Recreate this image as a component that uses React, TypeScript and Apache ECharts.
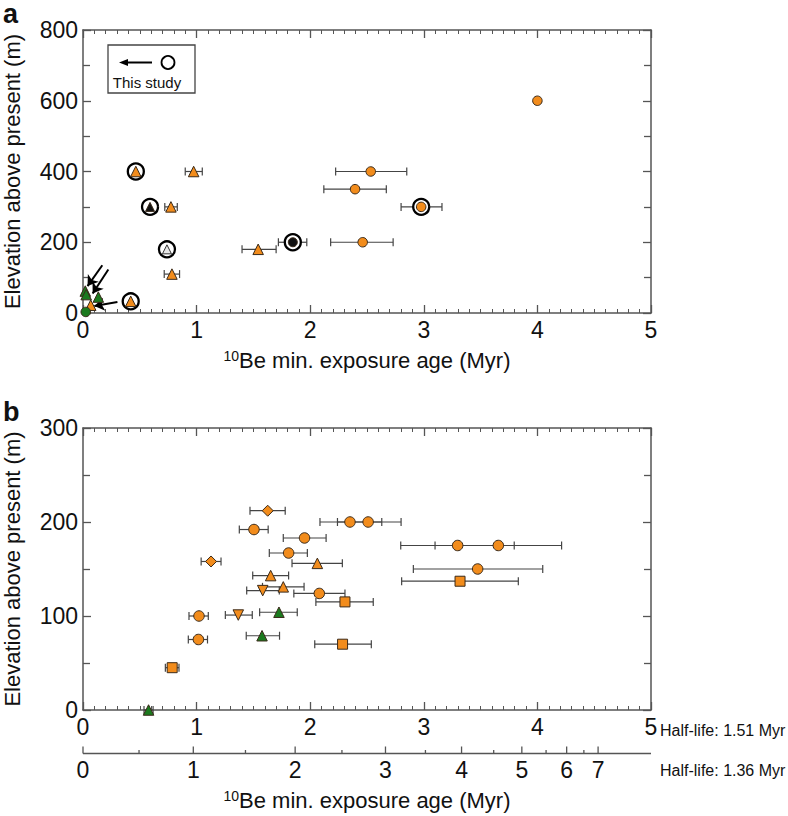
import React, { useEffect, useRef } from "react";
import * as echarts from "echarts";

// ---------- Panel a data ----------
const orangeCirclesA = [[2.533, 400], [2.395, 350], [2.462, 200], [4.0, 600], [2.977, 300]];
const orangeTrianglesA = [[0.974, 400], [0.774, 300], [1.542, 180], [0.783, 110], [0.465, 400], [0.42, 33], [0.068, 22]];
const greenTrianglesA = [[0.02, 62], [0.028, 52], [0.135, 45]];
const greenCirclesA = [[0.024, 3]];
const blackTrianglesA = [[0.59, 300]];
const greyTrianglesA = [[0.739, 180]];
const blackCirclesA = [[1.847, 200]];
const thisStudyA = [[0.465, 400], [0.59, 300], [0.739, 180], [1.847, 200], [2.977, 300], [0.42, 33]];
// [age, elevation, low, high]
const errorBarsA = [
  [0.974, 400, 0.9, 1.05], [0.774, 300, 0.72, 0.83], [1.542, 180, 1.4, 1.7], [0.783, 110, 0.715, 0.85],
  [1.847, 200, 1.72, 1.97], [2.462, 200, 2.18, 2.73], [2.533, 400, 2.224, 2.85], [2.395, 350, 2.12, 2.67],
  [2.977, 300, 2.8, 3.16],
];
// [fromAge, fromElev, toAge, toElev]
const arrowsA = [[0.17, 135, 0.04, 76], [0.223, 123, 0.085, 55], [0.303, 31, 0.1, 20]];

// ---------- Panel b data ----------
const circlesB = [[1.505, 192], [2.35, 200], [2.51, 200], [1.95, 183], [1.81, 167], [2.08, 124], [1.021, 100], [1.016, 75], [3.298, 175], [3.656, 175], [3.474, 150]];
const diamondsB = [[1.626, 212], [1.127, 158]];
const trianglesB = [[2.063, 156], [1.652, 143], [1.763, 131]];
const invTrianglesB = [[1.582, 127], [1.367, 101]];
const squaresB = [[2.306, 115], [2.285, 70], [0.785, 45], [3.319, 137]];
const greenTrianglesB = [[1.725, 104], [1.576, 79], [0.577, 0]];
const errorBarsB = [
  [1.626, 212, 1.47, 1.78], [1.505, 192, 1.376, 1.63], [2.35, 200, 2.086, 2.63], [2.51, 200, 2.24, 2.8],
  [1.95, 183, 1.763, 2.14], [1.81, 167, 1.64, 1.975], [1.127, 158, 1.04, 1.215], [2.063, 156, 1.84, 2.283],
  [1.652, 143, 1.494, 1.81], [1.582, 127, 1.441, 1.728], [1.763, 131, 1.58, 1.946], [2.08, 124, 1.856, 2.306],
  [2.306, 115, 2.05, 2.555], [1.021, 100, 0.933, 1.103], [1.367, 101, 1.253, 1.49], [1.725, 104, 1.555, 1.886],
  [3.298, 175, 2.797, 3.796], [3.656, 175, 3.099, 4.213], [3.474, 150, 2.908, 4.047], [3.319, 137, 2.805, 3.832],
  [1.016, 75, 0.927, 1.096], [1.576, 79, 1.437, 1.73], [2.285, 70, 2.04, 2.538], [0.785, 45, 0.725, 0.845],
  [0.577, 0, 0.537, 0.617],
];

// second (1.36 Myr half-life) axis ticks
const halfLifeMain = 1.51;
const halfLifeAlt = 1.36;
const altAxisTicks = [0, 0.5, 1, 1.5, 2, 2.5, 3, 3.5, 4, 4.5, 5, 5.5, 6, 6.5, 7];

function altToMain(t2: number) {
  const l1 = Math.LN2 / halfLifeMain;
  const l2 = Math.LN2 / halfLifeAlt;
  const n = (1 - Math.exp(-l2 * t2)) / l2;
  return -Math.log(1 - l1 * n) / l1;
}

const FONT = "Liberation Sans, Arial, Helvetica, sans-serif";
const ORANGE = "#F28C1C";
const GREEN = "#1B7A1E";
const EDGE = "#3a2a1a";
const AXIS = "#555";
const TICK_FS = 23;
const TITLE_FS = 22;
const X_TITLE = "{sup|10}Be min. exposure age (Myr)";
const SUP_RICH = { sup: { fontSize: 14, fontFamily: FONT, fill: "#111", color: "#111", verticalAlign: "bottom", padding: [0, 0, 9, 0] } };

function errRender(params: any, api: any) {
  const y = api.value(1);
  const p1 = api.coord([api.value(2), y]);
  const p2 = api.coord([api.value(3), y]);
  const h = 4;
  const st = { stroke: "#444", lineWidth: 1.2 };
  return {
    type: "group",
    children: [
      { type: "line", shape: { x1: p1[0], y1: p1[1], x2: p2[0], y2: p2[1] }, style: st },
      { type: "line", shape: { x1: p1[0], y1: p1[1] - h, x2: p1[0], y2: p1[1] + h }, style: st },
      { type: "line", shape: { x1: p2[0], y1: p2[1] - h, x2: p2[0], y2: p2[1] + h }, style: st },
    ],
  };
}

function xAxes(grid: number, withName: boolean) {
  const common = {
    gridIndex: grid,
    type: "value",
    min: 0,
    max: 5,
    interval: 1,
    axisLine: { show: true, onZero: false, lineStyle: { color: AXIS, width: 1.5 } },
    axisTick: { show: true, inside: true, length: 8, lineStyle: { color: AXIS, width: 1.3 } },
    minorTick: { show: true, splitNumber: 10, length: 4, lineStyle: { color: AXIS, width: 1 } },
    splitLine: { show: false },
    minorSplitLine: { show: false },
  };
  const bottom: any = {
    ...common,
    position: "bottom",
    axisLabel: { show: true, fontSize: TICK_FS, color: "#111", fontFamily: FONT, margin: 5 },
  };
  if (withName) {
    bottom.name = X_TITLE;
    bottom.nameLocation = "middle";
    bottom.nameGap = 36;
    bottom.nameMoveOverlap = false;
    bottom.nameTextStyle = { fontSize: TITLE_FS, color: "#111", fontFamily: FONT, rich: SUP_RICH };
  }
  return [bottom, { ...common, position: "top", axisLabel: { show: false } }];
}

function yAxes(grid: number, max: number, interval: number) {
  const common = {
    gridIndex: grid,
    type: "value",
    min: 0,
    max,
    interval,
    axisLine: { show: true, onZero: false, lineStyle: { color: AXIS, width: 1.5 } },
    axisTick: { show: true, inside: true, length: 8, lineStyle: { color: AXIS, width: 1.3 } },
    minorTick: { show: true, splitNumber: 2, length: 7, lineStyle: { color: AXIS, width: 1.3 } },
    splitLine: { show: false },
    minorSplitLine: { show: false },
  };
  return [
    {
      ...common,
      position: "left",
      axisLabel: { show: true, fontSize: TICK_FS, color: "#111", fontFamily: FONT, margin: 5 },
      name: "Elevation above present (m)",
      nameLocation: "middle",
      nameGap: 60,
      nameRotate: 90,
      nameMoveOverlap: false,
      nameTextStyle: { fontSize: TITLE_FS, color: "#111", fontFamily: FONT },
    },
    { ...common, position: "right", axisLabel: { show: false } },
  ];
}

function scatter(data: number[][], xi: number, yi: number, symbol: string, size: number, color: string, extra: any = {}, border = EDGE, bw = 1) {
  return {
    type: "scatter",
    xAxisIndex: xi,
    yAxisIndex: yi,
    data,
    symbol,
    symbolSize: size,
    itemStyle: { color, borderColor: border, borderWidth: bw, opacity: 1 },
    silent: true,
    ...extra,
  };
}

export default function App() {
  const ref = useRef<HTMLDivElement>(null);
  useEffect(() => {
    if (!ref.current) return;
    const chart = echarts.init(ref.current, null, { renderer: "svg" });
    const option: any = {
      animation: false,
      backgroundColor: "#fff",
      textStyle: { fontFamily: FONT },
      grid: [
        { left: 83, top: 30, width: 568, height: 283, containLabel: false, outerBoundsMode: "none" },
        { left: 83, top: 428, width: 568, height: 282, containLabel: false, outerBoundsMode: "none" },
      ],
      xAxis: [...xAxes(0, true), ...xAxes(1, false)],
      yAxis: [...yAxes(0, 800, 200), ...yAxes(1, 300, 100)],
      series: [
        // ---- panel a ----
        {
          type: "custom",
          xAxisIndex: 0,
          yAxisIndex: 0,
          data: errorBarsA,
          encode: { x: [0, 2, 3], y: 1 },
          renderItem: errRender,
          clip: false,
          silent: true,
        },
        {
          type: "lines",
          coordinateSystem: "cartesian2d",
          xAxisIndex: 0,
          yAxisIndex: 0,
          symbol: ["none", "arrow"],
          symbolSize: 10,
          lineStyle: { color: "#000", width: 2, opacity: 1 },
          data: arrowsA.map((a) => ({ coords: [[a[0], a[1]], [a[2], a[3]]] })),
          silent: true,
        },
        scatter(thisStudyA, 0, 0, "circle", 16, "#fff", {}, "#000", 2.3),
        scatter(orangeCirclesA, 0, 0, "circle", 9.5, ORANGE),
        scatter(orangeTrianglesA, 0, 0, "triangle", 10.5, ORANGE),
        scatter(greenTrianglesA, 0, 0, "triangle", 10.5, GREEN),
        scatter(greenCirclesA, 0, 0, "circle", 9.5, GREEN),
        scatter(blackTrianglesA, 0, 0, "triangle", 9, "#111"),
        scatter(greyTrianglesA, 0, 0, "triangle", 9, "#e8e8e8", {}, "#333", 1),
        scatter(blackCirclesA, 0, 0, "circle", 9, "#111"),
        // ---- panel b ----
        {
          type: "custom",
          xAxisIndex: 2,
          yAxisIndex: 2,
          data: errorBarsB,
          encode: { x: [0, 2, 3], y: 1 },
          renderItem: errRender,
          clip: false,
          silent: true,
        },
        scatter(circlesB, 2, 2, "circle", 10.5, ORANGE),
        scatter(diamondsB, 2, 2, "diamond", 11, ORANGE),
        scatter(trianglesB, 2, 2, "triangle", 10.5, ORANGE),
        scatter(invTrianglesB, 2, 2, "triangle", 10.5, ORANGE, { symbolRotate: 180 }),
        scatter(squaresB, 2, 2, "rect", 10, ORANGE),
        scatter(greenTrianglesB, 2, 2, "triangle", 10.5, GREEN),
        // second age axis (1.36 Myr half-life)
        {
          type: "custom",
          xAxisIndex: 2,
          yAxisIndex: 2,
          data: altAxisTicks.map((v) => [altToMain(v), v]),
          encode: { x: 0, y: 1 },
          clip: false,
          silent: true,
          renderItem: (params: any, api: any) => {
            const v = api.value(1);
            const x = api.coord([api.value(0), 0])[0];
            const y0 = api.coord([0, 0])[1] + 43.5;
            const major = Math.abs(v - Math.round(v)) < 1e-6;
            const st = { stroke: AXIS, lineWidth: 1.3 };
            const children: any[] = [
              { type: "line", shape: { x1: x, y1: y0, x2: x, y2: y0 - (major ? 7 : 3.5) }, style: st },
            ];
            if (major) {
              children.push({
                type: "text",
                style: { text: String(v), x, y: y0 + 5, fontSize: TICK_FS, fontFamily: FONT, fill: "#111", textAlign: "center", textVerticalAlign: "top" },
              });
            }
            if (params.dataIndex === 0) {
              const xe = api.coord([5, 0])[0];
              children.push({ type: "line", shape: { x1: x, y1: y0, x2: xe, y2: y0 }, style: { stroke: AXIS, lineWidth: 1.5 } });
            }
            return { type: "group", children };
          },
        },
      ],
      graphic: [
        { type: "text", left: 3, top: 0, style: { text: "a", fontSize: 27, fontWeight: "bold", fontFamily: FONT, fill: "#111" } },
        { type: "text", left: 3, top: 398, style: { text: "b", fontSize: 27, fontWeight: "bold", fontFamily: FONT, fill: "#111" } },
        { type: "rect", shape: { x: 108, y: 45, width: 87, height: 48 }, style: { fill: "#fff", stroke: "#444", lineWidth: 1.3 }, z: 10 },
        { type: "line", shape: { x1: 126, y1: 62.5, x2: 152, y2: 62.5 }, style: { stroke: "#000", lineWidth: 2 }, z: 11 },
        { type: "polygon", shape: { points: [[119, 62.5], [128, 59], [128, 66]] }, style: { fill: "#000" }, z: 11 },
        { type: "circle", shape: { cx: 168, cy: 62.5, r: 6.5 }, style: { fill: "#fff", stroke: "#000", lineWidth: 1.8 }, z: 11 },
        { type: "text", x: 147, y: 82, style: { text: "This study", fontSize: 15, fontFamily: FONT, fill: "#111", textAlign: "center", textVerticalAlign: "middle" }, z: 11 },
        { type: "text", x: 660, y: 730, style: { text: "Half-life: 1.51 Myr", fontSize: 16, fontFamily: FONT, fill: "#111", textVerticalAlign: "middle" } },
        { type: "text", x: 660, y: 770, style: { text: "Half-life: 1.36 Myr", fontSize: 16, fontFamily: FONT, fill: "#111", textVerticalAlign: "middle" } },
        {
          type: "text",
          x: 367,
          y: 800,
          style: { text: X_TITLE, fontSize: TITLE_FS, fontFamily: FONT, fill: "#111", textAlign: "center", textVerticalAlign: "middle", rich: SUP_RICH },
        },
      ],
    };
    chart.setOption(option);
    return () => chart.dispose();
  }, []);
  return <div ref={ref} style={{ position: "fixed", left: 0, top: 0, width: 788, height: 816, background: "#fff" }} />;
}
